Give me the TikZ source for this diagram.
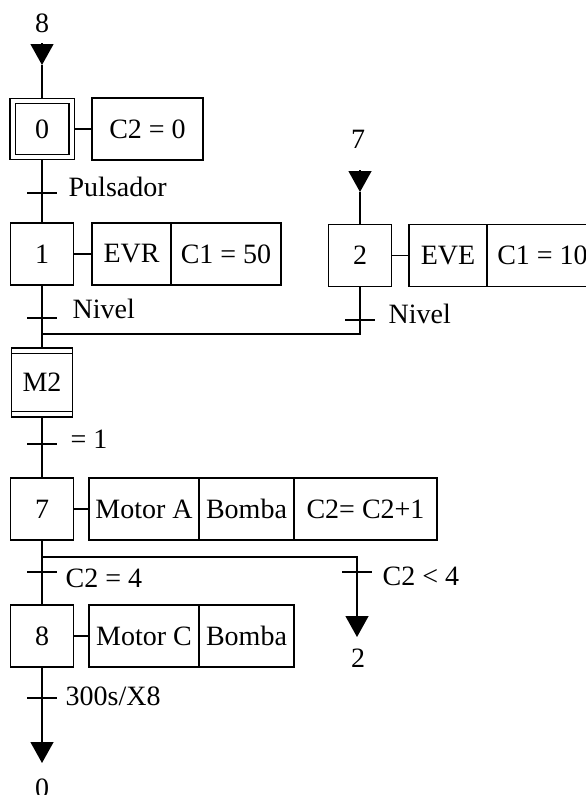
\documentclass[tikz,border=0pt]{standalone}
\usepackage{fontspec}
\setmainfont{Liberation Serif}
\usetikzlibrary{arrows.meta}
\tikzset{
  etapa/.style={draw, minimum width=63pt, minimum height=62pt, inner sep=0pt},
  accion/.style={draw, minimum height=62pt, inner sep=0pt, outer sep=0pt, anchor=west},
  etiqueta/.style={inner sep=0pt, anchor=base west},
  flecha/.style={-{Triangle[width=23pt,length=21pt]}}
}
\begin{document}
\begin{tikzpicture}[x=1pt, y=-1pt, line width=1.3pt, font=\fontsize{28}{30}\selectfont, line join=miter]
			\useasboundingbox (0,0) rectangle (586,795);
			\node[etapa, double, double distance=4pt, minimum width=59pt, minimum height=56pt, outer sep=3.3pt] (e0) at (42,129) {0};
			\node[etapa] (e1) at (42,254) {1};
			\node[etapa] (e2) at (360,255.5) {2};
			\node[etapa, minimum width=61pt, minimum height=69pt, outer sep=0pt] (m2) at (42,382.5) {M2};
			\node[etapa] (e7) at (42,509) {7};
			\node[etapa] (e8) at (42,636) {8};
			\draw ([yshift=-5.5pt]m2.north west) -- ([yshift=-5.5pt]m2.north east);
			\draw ([yshift=5.5pt]m2.south west) -- ([yshift=5.5pt]m2.south east);
			\node[accion, minimum width=111pt] (a0) at (92,129) {C2 = 0};
			\node[accion, minimum width=79pt] (a1a) at (92,254) {EVR};
			\node[accion, minimum width=110pt] (a1b) at (a1a.east) {C1 = 50};
			\node[accion, minimum width=78pt] (a2a) at (409,255.5) {EVE};
			\node[accion, minimum width=111pt] (a2b) at (a2a.east) {C1 = 10};
			\node[accion, minimum width=110pt] (a7a) at (89,509) {Motor A};
			\node[accion, minimum width=95pt] (a7b) at (a7a.east) {Bomba};
			\node[accion, minimum width=143pt] (a7c) at (a7b.east) {C2= C2+1};
			\node[accion, minimum width=110pt] (a8a) at (89,636) {Motor C};
			\node[accion, minimum width=95pt] (a8b) at (a8a.east) {Bomba};
			\foreach \e/\a in {e0/a0, e1/a1a, e2/a2a, e7/a7a, e8/a8a}
			\draw (\e.east) -- (\a.west);
			\coordinate (s8) at (42,43);
			\coordinate (s8p) at (42,65);
			\coordinate (s7) at (360,170);
			\coordinate (s7p) at (360,192);
			\foreach \a/\b/\c in {s8/s8p/e0, s7/s7p/e2}
			{\draw[flecha] (\a) -- (\b); \draw (\b) -- (\c.north);}
			\coordinate (j1) at (42,334);
			\coordinate (d1) at (42,557);
			\coordinate (f2) at (357,637);
			\coordinate (f0) at (42,763);
			\draw (e0.south) -- (e1.north);
			\draw (e1.south) -- (m2.north);
			\draw (e2.south) |- (j1);
			\draw (m2.south) -- (e7.north);
			\draw (e7.south) -- (e8.north);
			\draw[flecha] (d1) -| (f2);
			\draw[flecha] (e8.south) -- (f0);
			\foreach \t/\x/\y in {t0/42/193, t1/42/318, t2/360/320, t3/42/444, t4/42/572, t5/357/572, t6/42/698}
			{\coordinate (\t) at (\x,\y); \draw ([xshift=-15pt]\t) -- ([xshift=15pt]\t);}
			\foreach \n/\x/\y/\txt in {l0/68/196/Pulsador, l1/72/318/Nivel, l2/388/323/Nivel, l3/70/448/{= 1}, l4/65/587/{C2 = 4}, l5/382/585/{C2 < 4}, l6/65/705/{300s/X8}}
			\node[etiqueta] (\n) at (\x,\y) {\txt};
			\foreach \n/\x/\y/\txt in {n8/42/32/8, n7/358/148/7, n2/358/667/2, n0/42/797/0}
			\node[inner sep=0pt, anchor=base] (\n) at (\x,\y) {\txt};
		\end{tikzpicture}
\end{document}
